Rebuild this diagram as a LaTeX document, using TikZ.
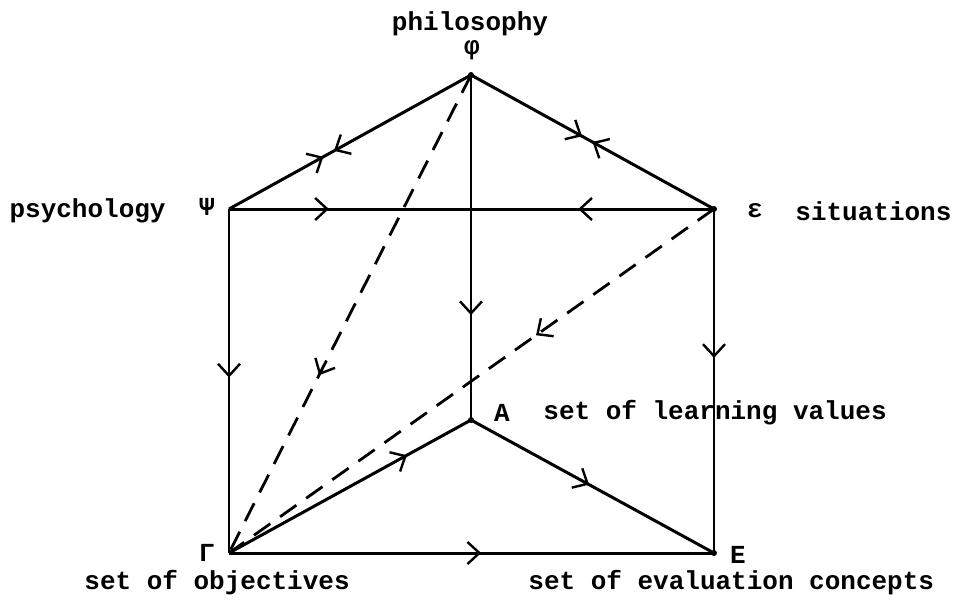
\documentclass[tikz,border=0pt]{standalone}
\usepackage{fontspec}
\setmonofont{Liberation Mono}
\usetikzlibrary{arrows.meta, positioning, calc, decorations.markings}

\begin{document}
\begin{tikzpicture}[
  x=0.5pt, y=-0.5pt,
  lbl/.style={font=\ttfamily\bfseries\fontsize{13}{15}\selectfont, inner sep=0pt},
  edge/.style={line width=1.5pt},
  rib/.style={line width=1pt},
  guide/.style={line width=1.4pt, dash pattern=on 10pt off 6pt},
  fwd/.style={postaction={decorate, decoration={markings,
    mark=at position #1 with {\arrow{Straight Barb[length=6pt, width=11pt, line width=1.2pt]}}}}},
  bwd/.style={postaction={decorate, decoration={markings,
    mark=at position #1 with {\arrowreversed{Straight Barb[length=6pt, width=11pt, line width=1.2pt]}}}}}
]
  \useasboundingbox (0,0) rectangle (953,600);

  % corners of the prism
  \coordinate (phi) at (471,75);
  \coordinate (psi) at (229,209);
  \coordinate (eps) at (714,209);
  \coordinate (A)   at (471,420);
  \coordinate (gam) at (229,553);
  \coordinate (E)   at (714,553);

  % labels
  \node[lbl] (philo)  at (470,24) {philosophy};
  \node[lbl] (phisym) at (472,50) {φ};
  \node[lbl] (psisym) at (207,207) {Ψ};
  \node[lbl, anchor=east] (psych) at (166,211) {psychology};
  \node[lbl] (epssym) at (755,211) {ε};
  \node[lbl, anchor=west] (sit) at (795,211) {situations};
  \node[lbl] (Asym) at (502,413) {A};
  \node[lbl, anchor=west] (learn) at (543,413) {set of learning values};
  \node[lbl] (gamsym) at (207,553) {Γ};
  \node[lbl, anchor=west] (obj) at (84,583) {set of objectives};
  \node[lbl] (Esym) at (738,555) {E};
  \node[lbl, anchor=west] (evalc) at (528,583) {set of evaluation concepts};

  % top triangle
  \draw[edge, fwd=0.39, bwd=0.434] (psi) -- (phi);
  \draw[edge, fwd=0.457, bwd=0.50] (phi) -- (eps);
  \draw[edge, fwd=0.206, bwd=0.72] (psi) -- (eps);

  % vertical ribs
  \draw[rib, fwd=0.696] (phi) -- (A);
  \draw[rib, fwd=0.49]  (psi) -- (gam);
  \draw[rib, fwd=0.433] (eps) -- (E);

  % bottom triangle
  \draw[edge, fwd=0.735] (gam) -- (A);
  \draw[edge, fwd=0.486] (A) -- (E);
  \draw[edge, fwd=0.52]  (gam) -- (E);

  % dashed diagonals
  \draw[guide, fwd=0.628] (phi) -- (gam);
  \draw[guide, fwd=0.367] (eps) -- (gam);

  \foreach \p in {phi, eps, A, E}
    \fill (\p) circle[radius=1.5pt];
\end{tikzpicture}
\end{document}
